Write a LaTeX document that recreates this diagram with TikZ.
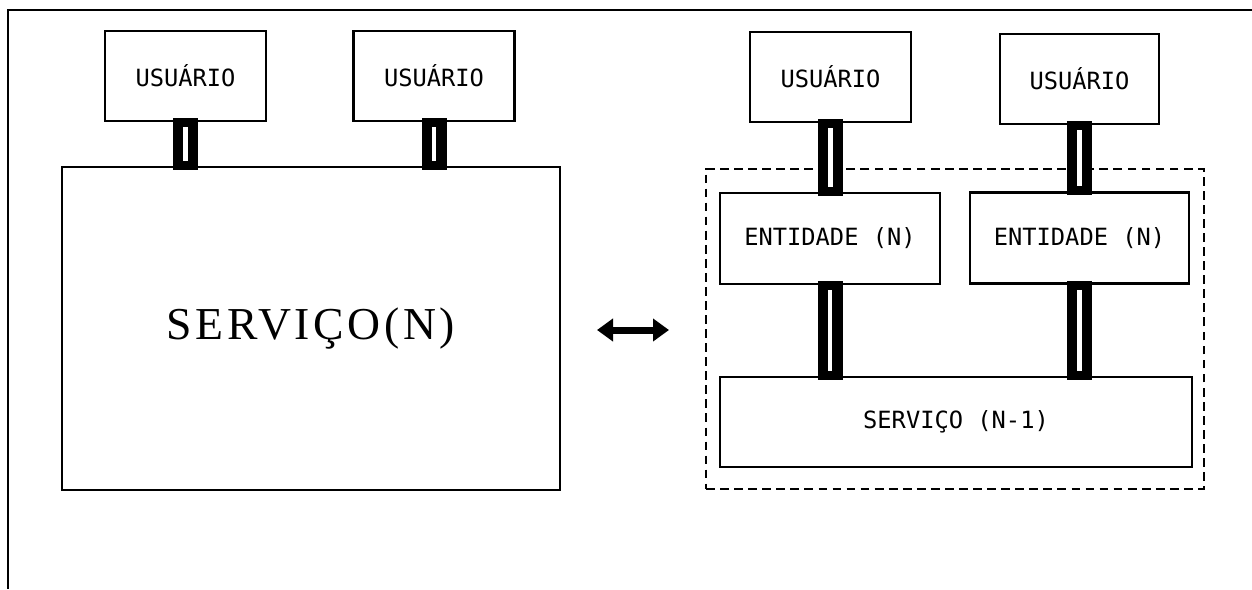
\documentclass[tikz,border=0pt]{standalone}
\usepackage{fontspec}
\setmonofont{DejaVu Sans Mono}
\newfontfamily\titlefont[LetterSpace=8]{Liberation Serif}
\usetikzlibrary{arrows.meta}

\begin{document}
\begin{tikzpicture}[x=0.02cm, y=-0.02cm,
  box/.style={draw, line width=1.5pt, inner sep=0pt, font=\ttfamily\fontsize{13.5}{16}\selectfont},
  usr/.style={box, minimum width=3.22cm, minimum height=1.8cm},
  ent/.style={box, minimum width=4.4cm, minimum height=1.82cm},
  link/.style={line width=0.5cm, shorten <=-0.08cm, shorten >=-0.08cm},
  slot/.style={white, line width=0.09cm, shorten <=0.1cm, shorten >=0.1cm},
  layer/.style={draw, line width=1pt, dash pattern=on 5pt off 3pt, inner sep=0pt},
  equiv/.style={{Triangle[length=0.32cm, width=0.44cm]}-{Triangle[length=0.32cm, width=0.44cm]}, line width=0.14cm}]
\useasboundingbox (0,0) rectangle (1252,589);
\draw[line width=1.1pt] (1252,10) -| (8,589);

\node[usr] (usrA) at (185.5,76) {USUÁRIO};
\node[usr] (usrB) at (434,76) {USUÁRIO};
\node[box, minimum width=9.96cm, minimum height=6.46cm, font=\titlefont\fontsize{26}{30}\selectfont] (srvN) at (311,328.5) {\raisebox{0.2cm}{SERVIÇO(N)}};

\coordinate (arrL) at (597,330);
\coordinate (arrR) at (669,330);
\draw[equiv] (arrL) -- (arrR);

\node[layer, minimum width=9.96cm, minimum height=6.4cm] (camada) at (955,329) {};
\node[usr] (usrC) at (830.5,77) {USUÁRIO};
\node[usr, minimum width=3.18cm] (usrD) at (1079.5,79) {USUÁRIO};
\node[ent] (entA) at (830,238.5) {ENTIDADE (N)};
\node[ent, minimum width=4.38cm] (entB) at (1079.5,238) {ENTIDADE (N)};
\node[box, minimum width=9.44cm, minimum height=1.8cm] (srvM) at (956,422) {SERVIÇO (N-1)};

\foreach \a/\b in {usrA/srvN, usrB/srvN, usrC/entA, usrD/entB, entA/srvM, entB/srvM} {
  \draw[link] (\a.south) -- (\a.south |- \b.north);
  \draw[slot] (\a.south) -- (\a.south |- \b.north);
}
\end{tikzpicture}
\end{document}
